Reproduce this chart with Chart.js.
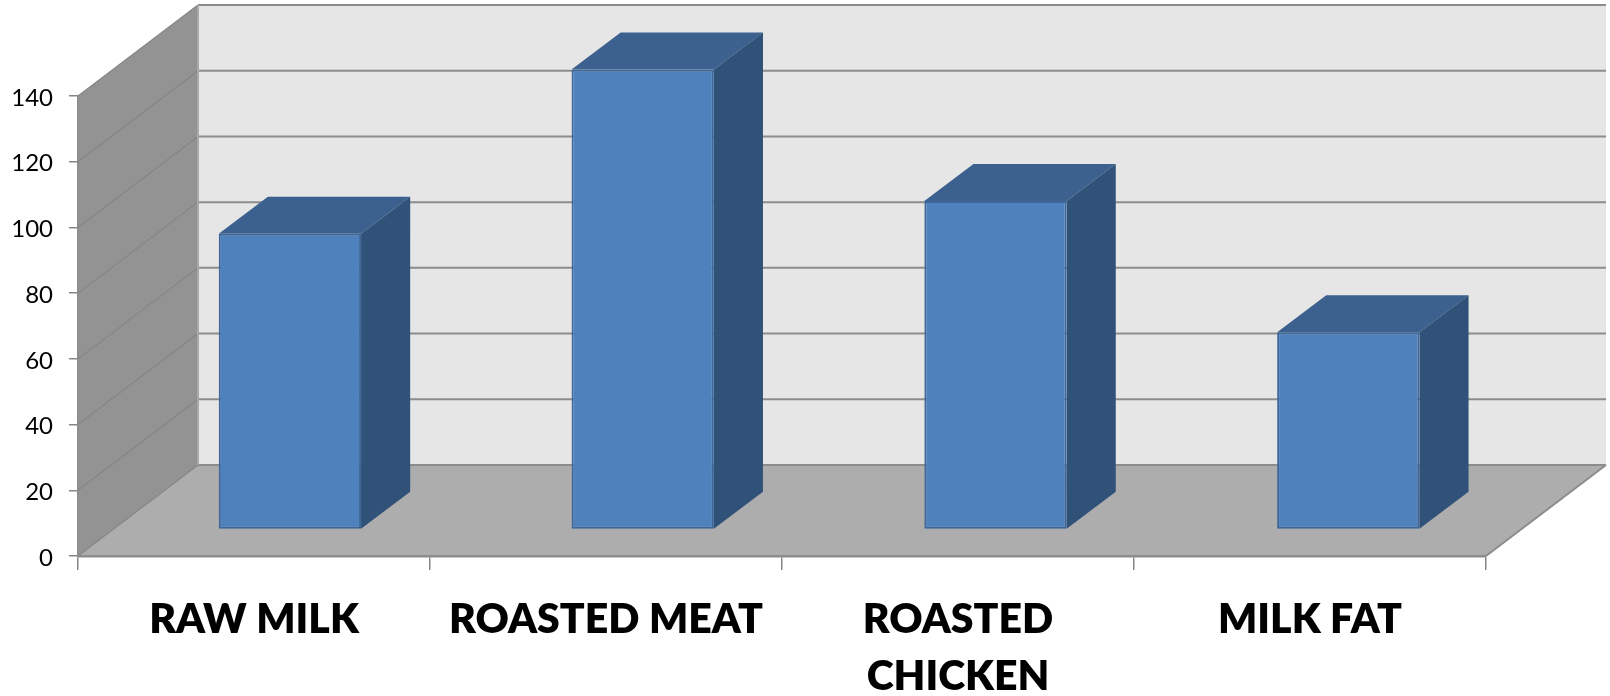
<!DOCTYPE html>
<html>
<head>
<meta charset="utf-8">
<style>
body { margin: 0; background: #fff; }
canvas { display: block; }
</style>
<script src="https://cdn.jsdelivr.net/npm/chart.js@4/dist/chart.umd.js"></script>
</head>
<body>
<canvas id="myChart" width="1610" height="696"></canvas>
<script>
const categories = ['RAW MILK', 'ROASTED MEAT', ['ROASTED', 'CHICKEN'], 'MILK FAT'];
const values = [90, 140, 100, 60];
const yMax = 140;
const yStep = 20;

// fake 3d: how far the back wall sits from the front plane
const wallDx = 120, wallDy = -91;
// bars stand part way into the floor and have their own depth
const barDx = 35.5, barDy = -26.5;
const sideDx = 49, sideDy = -37;
// the bars drift a little to the right of the category centres
const barStretch = 1.00227;

function poly(ctx, pts, fill) {
    ctx.beginPath();
    ctx.moveTo(pts[0][0], pts[0][1]);
    pts.slice(1).forEach(p => ctx.lineTo(p[0], p[1]));
    ctx.closePath();
    ctx.fillStyle = fill;
    ctx.fill();
}

function line(ctx, x1, y1, x2, y2, color, width) {
    ctx.beginPath();
    ctx.moveTo(x1, y1);
    ctx.lineTo(x2, y2);
    ctx.strokeStyle = color;
    ctx.lineWidth = width;
    ctx.stroke();
}

const wallsPlugin = {
    id: 'walls',
    beforeDraw(chart) {
        const { ctx, chartArea: { left, right, top, bottom }, scales: { y } } = chart;
        ctx.save();
        // back wall
        poly(ctx, [[left + wallDx, top + wallDy], [right + wallDx, top + wallDy],
                   [right + wallDx, bottom + wallDy], [left + wallDx, bottom + wallDy]], '#e6e6e6');
        // side wall
        poly(ctx, [[left, top], [left + wallDx, top + wallDy],
                   [left + wallDx, bottom + wallDy], [left, bottom]], '#939393');
        // floor
        poly(ctx, [[left, bottom], [left + wallDx, bottom + wallDy],
                   [right + wallDx, bottom + wallDy], [right, bottom]], '#adadad');

        y.ticks.forEach(t => {
            const py = y.getPixelForValue(t.value);
            line(ctx, left, py, left + wallDx, py + wallDy, '#858585', 1.2);
            line(ctx, left + wallDx, py + wallDy, right + wallDx, py + wallDy, '#8c8c8c', 2);
        });
        line(ctx, left + wallDx, top + wallDy, left + wallDx, bottom + wallDy, '#a8a8a8', 2);
        line(ctx, right, bottom, right + wallDx, bottom + wallDy, '#8c8c8c', 2);
        ctx.restore();
    }
};

const boxPlugin = {
    id: 'box',
    beforeDatasetsDraw(chart) {
        const { ctx, chartArea: { left } } = chart;
        ctx.save();
        ctx.translate(barDx + left, barDy);
        ctx.scale(barStretch, 1);
        ctx.translate(-left, 0);
        chart.getDatasetMeta(0).data.forEach(bar => {
            const l = bar.x - bar.width / 2, r = bar.x + bar.width / 2;
            poly(ctx, [[l, bar.y], [l + sideDx, bar.y + sideDy],
                       [r + sideDx, bar.y + sideDy], [r, bar.y]], '#3c618f');
            poly(ctx, [[r, bar.y], [r + sideDx, bar.y + sideDy],
                       [r + sideDx, bar.base + sideDy], [r, bar.base]], '#315278');
        });
    },
    afterDatasetsDraw(chart) {
        chart.ctx.restore();
    }
};

const chart = new Chart(document.getElementById('myChart').getContext('2d'), {
    type: 'bar',
    data: {
        labels: categories,
        datasets: [{
            data: values,
            backgroundColor: '#4f81bd',
            borderColor: '#3c6798',
            borderWidth: 2,
            borderSkipped: false,
            categoryPercentage: 1,
            barPercentage: 0.4034,
            clip: false
        }]
    },
    options: {
        responsive: false,
        animation: false,
        layout: { padding: { left: 0, top: 96, right: 124, bottom: 0 } },
        plugins: { legend: { display: false }, tooltip: { enabled: false } },
        scales: {
            x: {
                type: 'category',
                offset: true,
                afterFit(scale) { scale.height = 140; },
                grid: { offset: true, drawOnChartArea: false, color: '#868686', lineWidth: 1.5, tickLength: 14 },
                border: { color: '#8c8c8c', width: 2.5 },
                ticks: {
                    color: '#000',
                    autoSkip: false,
                    maxRotation: 0,
                    padding: 21,
                    font: { family: 'Lato', weight: 800, size: 41, lineHeight: 1.39 }
                }
            },
            y: {
                min: 0,
                max: yMax,
                afterFit(scale) { scale.width = 78; },
                grid: { drawOnChartArea: false, color: '#868686', lineWidth: 1.5, tickLength: 9 },
                border: { color: '#8c8c8c', width: 1.5 },
                ticks: {
                    stepSize: yStep,
                    color: '#000',
                    padding: 16,
                    labelOffset: 2,
                    font: { family: 'Lato', size: 24 }
                }
            }
        }
    },
    plugins: [wallsPlugin, boxPlugin]
});
</script>
</body>
</html>
